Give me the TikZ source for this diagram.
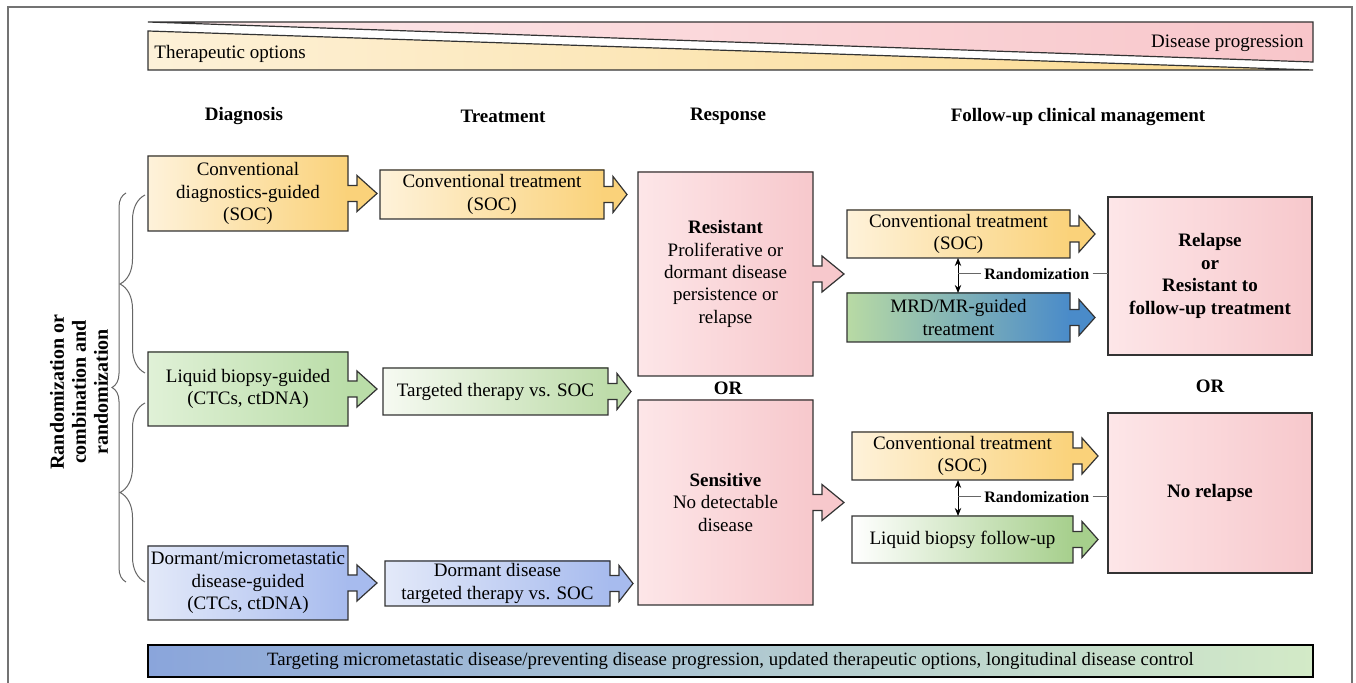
\documentclass[tikz,border=0pt]{standalone}
\usepackage{fontspec}
\setmainfont{Liberation Serif}
\usetikzlibrary{calc,decorations.pathreplacing,arrows.meta}

\definecolor{orL}{HTML}{FEF2DA}
\definecolor{orR}{HTML}{FAD27A}
\definecolor{grL}{HTML}{E0F1D7}
\definecolor{grR}{HTML}{BADDA8}
\definecolor{gwL}{HTML}{F6FAF2}
\definecolor{gwR}{HTML}{BEDCAA}
\definecolor{blL}{HTML}{E3E9F9}
\definecolor{blR}{HTML}{A7BBEE}
\definecolor{pkL}{HTML}{FDE6E8}
\definecolor{pkR}{HTML}{F7C8CC}
\definecolor{mrL}{HTML}{B8DAA4}
\definecolor{mrR}{HTML}{4A8BC9}
\definecolor{lbR}{HTML}{A6CF8C}
\definecolor{bbL}{HTML}{8AA5DB}
\definecolor{bbR}{HTML}{D3EAC7}
\definecolor{bnL}{HTML}{FDF1D8}
\definecolor{bnR}{HTML}{FBD98C}
\definecolor{bpL}{HTML}{FDE8EA}
\definecolor{bpR}{HTML}{F8C6CA}
\definecolor{edgec}{HTML}{333333}

\tikzset{
  box/.style={inner sep=0pt, outer sep=0pt, align=center, font=\fontsize{9.5}{11.2}\selectfont},
  edge/.style={draw=edgec, line width=0.6pt, line join=miter},
  hdr/.style={font=\fontsize{9.5}{11.2}\selectfont\bfseries, align=center},
  side/.style={font=\fontsize{10}{11}\selectfont\bfseries, align=center},
  plain/.style={font=\fontsize{9.5}{11.2}\selectfont},
  rnd/.style={font=\fontsize{8}{9}\selectfont\bfseries, inner sep=1.5pt},
  rline/.style={draw=black!60, line width=0.5pt},
  dbl/.style={{Stealth[length=4pt,width=3.2pt]}-{Stealth[length=4pt,width=3.2pt]}, line width=0.5pt},
  brc/.style={draw=black!60, line width=0.5pt, decorate, decoration={brace, amplitude=#1}},
  orange/.style={left color=orL, right color=orR},
  green/.style={left color=grL, right color=grR},
  greenw/.style={left color=gwL, right color=gwR},
  blue/.style={left color=blL, right color=blR},
  pink/.style={left color=pkL, right color=pkR},
  mrd/.style={left color=mrL, right color=mrR},
  lbf/.style={left color=white, right color=lbR},
}

% node from pixel corners
\newcommand\bx[7]{\node[box,#6,minimum width={(#4-#2)*0.5pt},minimum height={(#5-#3)*0.5pt}] (#1) at ({(#2+#4)/2},{(#3+#5)/2}) {#7};}

% arrow-shaped outline attached to a node: #1 node, #2 fill colour, #3 head length
\newcommand\arrowout[3]{%
  \fill[#2] ([xshift=-0.8pt,yshift=4pt]#1.east) -- ([xshift=4.5pt,yshift=4pt]#1.east)
    -- ([xshift=4.5pt,yshift=9pt]#1.east) -- ([xshift={4.5pt+#3}]#1.east)
    -- ([xshift=4.5pt,yshift=-9pt]#1.east) -- ([xshift=4.5pt,yshift=-4pt]#1.east)
    -- ([xshift=-0.8pt,yshift=-4pt]#1.east) -- cycle;
  \draw[edge] ([yshift=4pt]#1.east) -- (#1.north east) -- (#1.north west) -- (#1.south west)
    -- (#1.south east) -- ([yshift=-4pt]#1.east) -- ([xshift=4.5pt,yshift=-4pt]#1.east)
    -- ([xshift=4.5pt,yshift=-9pt]#1.east) -- ([xshift={4.5pt+#3}]#1.east)
    -- ([xshift=4.5pt,yshift=9pt]#1.east) -- ([xshift=4.5pt,yshift=4pt]#1.east) -- cycle;
}

\begin{document}
\begin{tikzpicture}[x=0.5pt,y=-0.5pt]
\useasboundingbox (0,0) rectangle (1356,683);
\fill[white] (0,0) rectangle (1356,683);
% frame
\draw[black!55, line width=0.8pt] (8,720) -- (8,7) -- (1352,7) -- (1352,720);

% banner
\shade[left color=bpL, right color=bpR] (148,22) -- (1313,22) -- (1313,62) -- cycle;
\draw[edgec, line width=0.6pt, line join=miter] (148,22) -- (1313,22) -- (1313,62) -- cycle;
\shade[left color=bnL, right color=bnR] (148,31) -- (1313,70) -- (148,70) -- cycle;
\draw[edgec, line width=0.6pt, line join=miter] (148,31) -- (1313,70) -- (148,70) -- cycle;
\node[plain, anchor=west, inner sep=0pt] (thera) at (154,54) {Therapeutic options};
\node[plain, anchor=east, inner sep=0pt] (prog) at (1304,43) {Disease progression};

% headers
\node[hdr] (hdiag) at (244,116) {Diagnosis};
\node[hdr] (htreat) at (503,116) {Treatment};
\node[hdr] (hresp) at (728,116) {Response};
\node[hdr] (hfu) at (1078,117) {Follow-up clinical management};

% diagnosis
\bx{d1}{148}{156}{348}{231}{orange}{Conventional\\diagnostics-guided\\(SOC)}
\bx{d2}{148}{352}{348}{426}{green}{Liquid biopsy-guided\\(CTCs, ctDNA)}
\bx{d3}{148}{546}{348}{620}{blue}{Dormant/micrometastatic\\disease-guided\\(CTCs, ctDNA)}
\arrowout{d1}{orR}{10pt}
\arrowout{d2}{grR}{10pt}
\arrowout{d3}{blR}{10pt}

% treatment
\bx{t1}{380}{170}{604}{219}{orange}{Conventional treatment\\(SOC)}
\bx{t2}{383}{368}{608}{415}{greenw}{Targeted therapy vs. SOC}
\bx{t3}{385}{561}{610}{606}{blue}{Dormant disease\\targeted therapy vs. SOC}
\arrowout{t1}{orR}{7pt}
\arrowout{t2}{gwR}{7pt}
\arrowout{t3}{blR}{7pt}

% response
\bx{r1}{638}{172}{813}{376}{pink}{\textbf{Resistant}\\Proliferative or\\dormant disease\\persistence or\\relapse}
\bx{r2}{638}{400}{813}{605}{pink}{\textbf{Sensitive}\\No detectable\\disease}
\arrowout{r1}{pkR}{11pt}
\arrowout{r2}{pkR}{11pt}
\node[hdr] (or1) at (728,388) {OR};

% follow-up
\bx{f1}{847}{210}{1070}{258}{orange}{Conventional treatment\\(SOC)}
\bx{f2}{847}{293}{1070}{342}{mrd}{MRD/MR-guided\\treatment}
\bx{f3}{852}{432}{1073}{480}{orange}{Conventional treatment\\(SOC)}
\bx{f4}{852}{516}{1073}{563}{lbf}{Liquid biopsy follow-up}
\arrowout{f1}{orR}{8pt}
\arrowout{f2}{mrR}{8pt}
\arrowout{f3}{orR}{8pt}
\arrowout{f4}{lbR}{8pt}

% outcomes
\bx{o1}{1108}{197}{1312}{355}{pink, edge}{\textbf{Relapse}\\\textbf{or}\\\textbf{Resistant to}\\\textbf{follow-up treatment}}
\bx{o2}{1108}{413}{1312}{573}{pink, edge}{\textbf{No relapse}}
\node[hdr] (or2) at (1210,386) {OR};

% randomization
\draw[dbl] ([xshift=55.5pt]f1.south west) -- ([xshift=55.5pt]f2.north west);
\node[rnd, anchor=west] (ra1) at (981,274) {Randomization};
\draw[rline] (ra1.west) -- ++(-11.5pt,0);
\draw[rline] (ra1.east) -- (o1.west |- ra1.east);
\draw[dbl] ([xshift=53pt]f3.south west) -- ([xshift=53pt]f4.north west);
\node[rnd, anchor=west] (ra2) at (981,497) {Randomization};
\draw[rline] (ra2.west) -- ++(-11.5pt,0);
\draw[rline] (ra2.east) -- (o2.west |- ra2.east);

% braces and side label
\draw[brc=7pt] (126,582) -- (126,193);
\draw[brc=12.5pt] (145,373) -- (145,195);
\draw[brc=12.5pt] (145,582) -- (145,403);
\node[side, rotate=90] (sidelab) at (79,392) {Randomization or\\combination and\\randomization};

% bottom bar
\bx{bar}{148}{645}{1313}{677}{left color=bbL, right color=bbR, draw=black, line width=1pt}{\fontsize{9.4}{10}\selectfont Targeting micrometastatic disease/preventing disease progression, updated therapeutic options, longitudinal disease control}
\end{tikzpicture}
\end{document}
